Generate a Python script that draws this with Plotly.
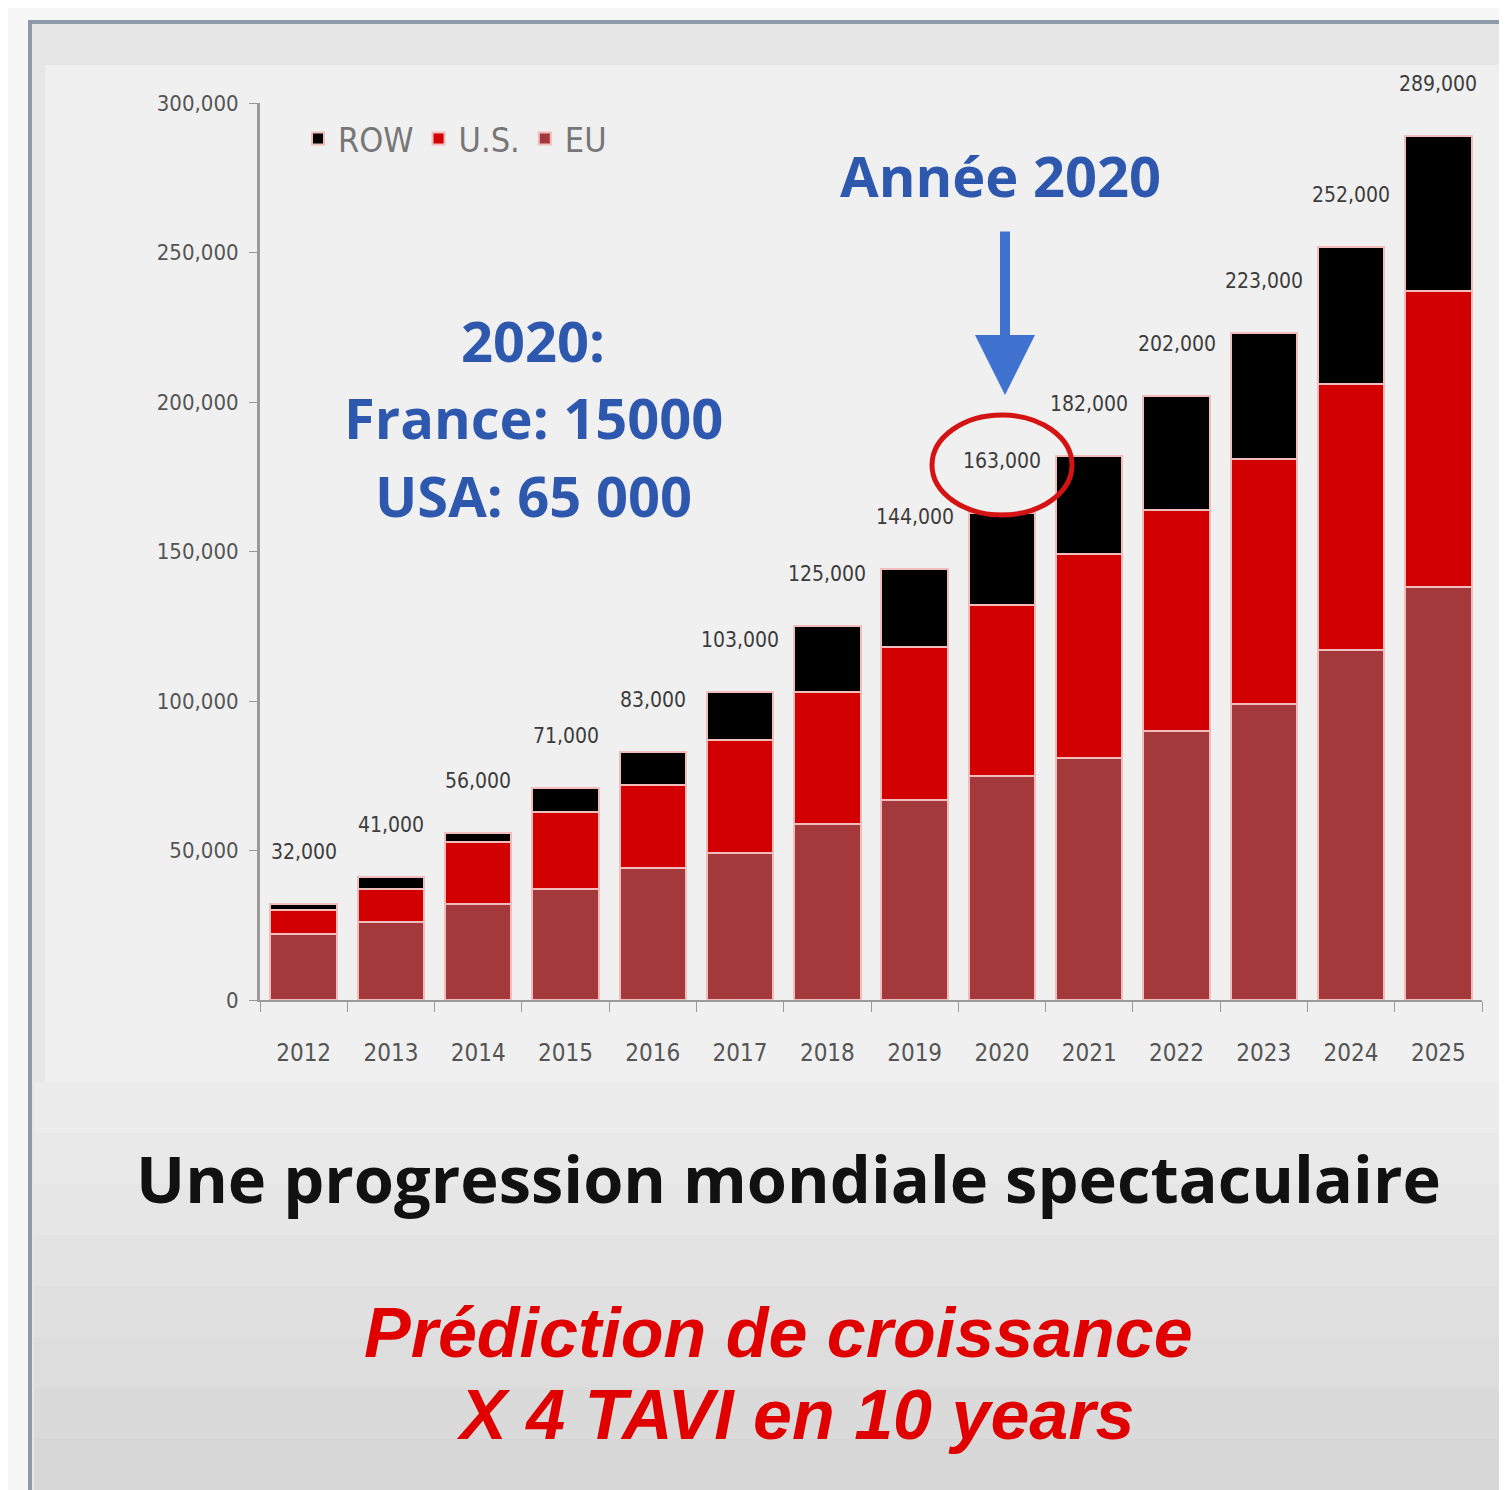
import plotly.graph_objects as go

years = ['2012', '2013', '2014', '2015', '2016', '2017', '2018',
         '2019', '2020', '2021', '2022', '2023', '2024', '2025']
eu = [22000, 26000, 32000, 37000, 44000, 49000, 59000,
      67000, 75000, 81000, 90000, 99000, 117000, 138000]
us = [8000, 11000, 21000, 26000, 28000, 38000, 44000,
      51000, 57000, 68000, 74000, 82000, 89000, 99000]
row = [2000, 4000, 3000, 8000, 11000, 16000, 22000,
       26000, 31000, 33000, 38000, 42000, 46000, 52000]
totals = [a + b + c for a, b, c in zip(eu, us, row)]

# the page puts the figure 8px in from the top-left corner
OFF = 8
W, H = 1507 - OFF, 1490 - OFF
L, T, R, B = 252, 95, 25, 490
PW, PH = W - L - R, H - T - B


def px(x):
    return (x - OFF - L) / PW


def py(y):
    return (H - B - (y - OFF)) / PH


narrow = 'DejaVu Sans Condensed, Liberation Sans'
fig = go.Figure()

series = [('EU', eu, '#a3393b'), ('U.S.', us, '#d20000'), ('ROW', row, '#000000')]
for name, vals, color in series:
    fig.add_trace(go.Bar(
        x=years, y=vals, name=name,
        marker=dict(color=color, line=dict(color='#f0bcbc', width=2)),
    ))

# totals above each bar (x given as category index)
for i, tot in enumerate(totals):
    fig.add_annotation(x=i, y=tot, text=f'{tot:,}', showarrow=False,
                       xanchor='center', yanchor='bottom', yshift=38,
                       font=dict(family=narrow, size=21, color='#3c3c3c'))

# background frame
shapes = [
    dict(type='rect', xref='paper', yref='paper', x0=px(30), x1=px(1540),
         y0=py(22), y1=py(1520), fillcolor='#e6e6e6',
         line=dict(color='#8f9aab', width=4), layer='below'),
    dict(type='rect', xref='paper', yref='paper', x0=px(45), x1=px(1540),
         y0=py(65), y1=py(1082), fillcolor='#f0f0f0', line_width=0, layer='below'),
]
greys = ['#ececec', '#e9e9e9', '#e6e6e6', '#e3e3e3', '#e0e0e0', '#dddddd', '#dadada', '#d7d7d7']
band = (1490 - 1082) / len(greys)
for i, g in enumerate(greys):
    shapes.append(dict(type='rect', xref='paper', yref='paper', x0=px(34), x1=px(1540),
                       y0=py(1082 + i * band), y1=py(1082 + (i + 1) * band + 1),
                       fillcolor=g, line_width=0, layer='below'))
# red circle round the 2020 total
shapes.append(dict(type='circle', xref='paper', yref='paper', x0=px(932), x1=px(1072),
                   y0=py(515), y1=py(415), line=dict(color='#d41414', width=5)))


def note(x, y, text, size, color, family='Open Sans'):
    fig.add_annotation(xref='paper', yref='paper', x=px(x), y=py(y), text=text,
                       showarrow=False, xanchor='center', yanchor='middle',
                       font=dict(family=family, size=size, color=color))


blue = '#2d58ad'
note(533, 340, '<b>2020:</b>', 56, blue)
note(533, 417, '<b>France: 15000</b>', 56, blue)
note(533, 495, '<b>USA: 65 000</b>', 56, blue)
note(1000, 175, '<b>Année 2020</b>', 56, blue)
fig.add_annotation(xref='paper', yref='paper', x=px(1005), y=py(395),
                   ax=0, ay=-165, text='', showarrow=True,
                   arrowhead=2, arrowsize=1.2, arrowwidth=10, arrowcolor='#3f72cf')

note(788, 1178, '<b>Une progression mondiale spectaculaire</b>', 65, '#111')
note(778, 1333, '<b><i>Prédiction de croissance</i></b>', 70, '#e00000', 'Liberation Sans')
note(795, 1415, '<b><i>X 4 TAVI en 10 years</i></b>', 70, '#e00000', 'Liberation Sans')

fig.update_layout(
    width=W, height=H,
    margin=dict(l=L, r=R, t=T, b=B),
    barmode='stack', bargap=0.24,
    paper_bgcolor='#f7f7f7', plot_bgcolor='rgba(0,0,0,0)',
    shapes=shapes,
    legend=dict(orientation='h', traceorder='reversed',
                x=px(298), y=py(110), xanchor='left', yanchor='top',
                bgcolor='rgba(0,0,0,0)', itemwidth=30,
                font=dict(family=narrow, size=34, color='#777')),
    xaxis=dict(type='category', range=[-0.5, 13.5], showline=True,
               linecolor='#9a9a9a', linewidth=2, tickangle=0,
               ticks='outside', tickson='boundaries', ticklen=10, tickcolor='#9a9a9a',
               ticklabelstandoff=30,
               tickfont=dict(family=narrow, size=24, color='#555')),
    yaxis=dict(range=[0, 300000], dtick=50000, tickformat=',d', showgrid=False,
               zeroline=False, showline=True, linecolor='#9a9a9a', linewidth=3,
               ticks='outside', ticklen=8, tickcolor='#9a9a9a',
               ticklabelstandoff=6,
               tickfont=dict(family=narrow, size=22, color='#555')),
    showlegend=True,
)

fig.write_html('out.html')
